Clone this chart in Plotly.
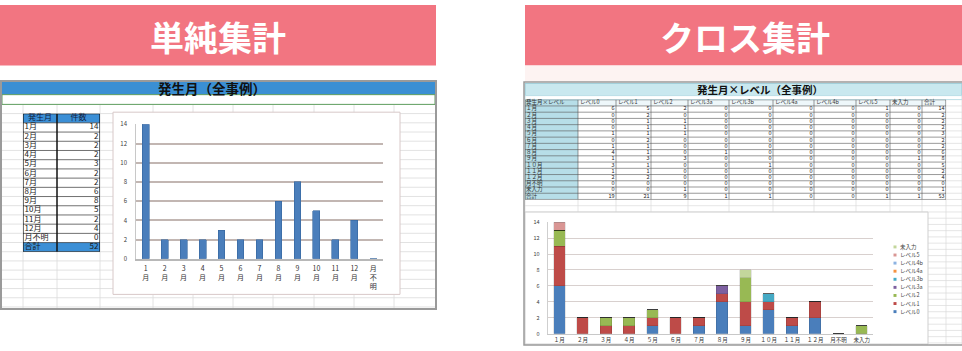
import plotly.graph_objects as go

W, H = 962, 351
FONT = "Noto Sans CJK JP"

# ---------------- data ----------------
banner_left = "単純集計"
banner_right = "クロス集計"
title_left = "発生月（全事例）"
title_right = "発生月×レベル（全事例）"

simple_header = ["発生月", "件数"]
simple_months = ["1月", "2月", "3月", "4月", "5月", "6月", "7月", "8月", "9月",
                 "10月", "11月", "12月", "月不明"]
simple_counts = [14, 2, 2, 2, 3, 2, 2, 6, 8, 5, 2, 4, 0]
simple_total_label = "合計"
simple_total = 52
simple_ticks = ["1<br>月", "2<br>月", "3<br>月", "4<br>月", "5<br>月", "6<br>月", "7<br>月",
                "8<br>月", "9<br>月", "10<br>月", "11<br>月", "12<br>月", "月<br>不<br>明"]
y_ticks = [0, 2, 4, 6, 8, 10, 12, 14]

cross_corner = "発生月×レベル"
cross_months = ["１月", "２月", "３月", "４月", "５月", "６月", "７月", "８月", "９月",
                "１０月", "１１月", "１２月", "月不明", "未入力"]
cross_levels = ["レベル0", "レベル1", "レベル2", "レベル3a", "レベル3b",
                "レベル4a", "レベル4b", "レベル5", "未入力"]
cross_total_label = "合計"
lv0 = [6, 0, 0, 0, 1, 0, 1, 4, 1, 3, 1, 2, 0, 0]
lv1 = [5, 2, 1, 1, 1, 2, 1, 1, 3, 1, 1, 2, 0, 0]
lv2 = [2, 0, 1, 1, 1, 0, 0, 0, 3, 0, 0, 0, 0, 1]
lv3a = [0, 0, 0, 0, 0, 0, 0, 1, 0, 0, 0, 0, 0, 0]
lv3b = [0, 0, 0, 0, 0, 0, 0, 0, 0, 1, 0, 0, 0, 0]
lv4a = [0, 0, 0, 0, 0, 0, 0, 0, 0, 0, 0, 0, 0, 0]
lv4b = [0, 0, 0, 0, 0, 0, 0, 0, 0, 0, 0, 0, 0, 0]
lv5 = [1, 0, 0, 0, 0, 0, 0, 0, 0, 0, 0, 0, 0, 0]
lvna = [0, 0, 0, 0, 0, 0, 0, 0, 1, 0, 0, 0, 0, 0]
cross_row_totals = [14, 2, 2, 2, 3, 2, 2, 6, 8, 5, 2, 4, 0, 1]
cross_col_totals = [19, 21, 9, 1, 1, 0, 0, 1, 1, 53]
cross_series = [lv0, lv1, lv2, lv3a, lv3b, lv4a, lv4b, lv5, lvna]

# ---------------- styles ----------------
series_colors = ["#4A7EBB", "#BE4B48", "#98B954", "#7D60A0", "#46AAC5",
                 "#F69240", "#8DB3E2", "#D99694", "#C3D69B"]
PINK = "#F27581"


def px(x):
    return x / W


def py(y):
    return 1 - y / H


fig = go.Figure()
shapes = []
annotations = []


def prect(x0, y0, x1, y1, fill=None, line=None, lw=1, layer="below"):
    shapes.append(dict(type="rect", xref="paper", yref="paper",
                       x0=px(x0), x1=px(x1), y0=py(y1), y1=py(y0),
                       fillcolor=fill or "rgba(0,0,0,0)",
                       line=dict(color=line or "rgba(0,0,0,0)", width=lw if line else 0),
                       layer=layer))


def pline(x0, y0, x1, y1, color, lw=1, layer="below"):
    shapes.append(dict(type="line", xref="paper", yref="paper",
                       x0=px(x0), x1=px(x1), y0=py(y0), y1=py(y1),
                       line=dict(color=color, width=lw), layer=layer))


def ptext(text, x, y, size, color, weight="normal", xanchor="center"):
    annotations.append(dict(text=text, x=px(x), y=py(y), xref="paper", yref="paper",
                            xanchor=xanchor, yanchor="middle", showarrow=False,
                            borderpad=0, font=dict(family=FONT, size=size, color=color,
                                                   weight=weight)))


# ---------- banners ----------
prect(0, 0, 436, 62, fill=PINK)
prect(525, 0, 962, 62, fill=PINK)
prect(525, 62, 962, 79, fill="#FDF3F2")
ptext(banner_left, 218, 32, 34, "white", "bold")
ptext(banner_right, 745, 32, 34, "white", "bold")

# ---------- left sheet ----------
prect(1, 78, 436, 312, fill="white")
r = 102.0
while r < 312:
    pline(2, r, 435, r, "#DADADA", 0.8)
    r += 9.45
for vx in [23, 57, 100, 153, 193, 233, 273, 314, 354, 394]:
    pline(vx, 102, vx, 311, "#DADADA", 0.8)
prect(2, 79, 435, 92, fill="#3B8FD3")
prect(2, 92, 435, 102, fill="white", line="#5E9E5E", lw=1)
prect(113, 110, 400, 297, fill="white", line="#D8C8C8", lw=1)
prect(1, 78, 436, 312, line="#9A9A9A", lw=2)
ptext(title_left, 212, 85.5, 13.5, "#111", "bold")

# ---------- right sheet ----------
prect(524, 79, 962, 349, fill="white")
r = 97.2 - 6.4
while r < 349:
    if r > 93:
        pline(525, r, 962, r, "#DADADA", 0.7)
    r += 6.4
col_w = [53, 38, 35, 37, 41, 44, 41, 42, 34, 32, 24]
edges = [525]
for w in col_w:
    edges.append(edges[-1] + w)
for vx in edges + [962]:
    pline(vx, 93, vx, 349, "#DADADA", 0.7)
prect(525, 80.5, 962, 93, fill="#C9E8EF", line="#8CC3D0", lw=0.8)
prect(525, 93, 962, 97, fill="white", line="#B5DCE5", lw=0.8)
prect(525, 212.5, 928, 348, fill="white", line="#CFCFCF", lw=1)
prect(524, 79, 963, 349, line="#9A9A9A", lw=1.5)
ptext(title_right, 760, 87, 10.5, "#111", "bold")

# ---------- left table (axis x3/y3, units = px) ----------
lt_w = [34, 43]
lt_rows = 1 + len(simple_months) + 1


def ax_rect(xr, yr, x0, y0, x1, y1, fill=None, line=None, lw=1):
    shapes.append(dict(type="rect", xref=xr, yref=yr, x0=x0, x1=x1, y0=y0, y1=y1,
                       fillcolor=fill or "rgba(0,0,0,0)",
                       line=dict(color=line or "rgba(0,0,0,0)", width=lw if line else 0),
                       layer="below"))


def ax_line(xr, yr, x0, y0, x1, y1, color, lw):
    shapes.append(dict(type="line", xref=xr, yref=yr, x0=x0, x1=x1, y0=y0, y1=y1,
                       line=dict(color=color, width=lw), layer="below"))


LTW = sum(lt_w)
ax_rect("x3", "y3", 0, 0, LTW, lt_rows, fill="white")
ax_rect("x3", "y3", 0, 0, LTW, 1, fill="#3B8FD6")
ax_rect("x3", "y3", 0, lt_rows - 1, LTW, lt_rows, fill="#3B8FD6")
for i in range(1, lt_rows):
    ax_line("x3", "y3", 0, i, LTW, i, "#333", 0.7)
ax_line("x3", "y3", lt_w[0], 0, lt_w[0], lt_rows, "#111", 1.5)
ax_rect("x3", "y3", 0, 0, LTW, lt_rows, line="#111", lw=1.2)

lt_lab_x, lt_lab_y, lt_lab_t = [], [], []
lt_val_x, lt_val_y, lt_val_t = [], [], []
for i, m in enumerate(simple_months):
    lt_lab_x.append(1.5); lt_lab_y.append(i + 1.5); lt_lab_t.append(m)
    lt_val_x.append(LTW - 1.5); lt_val_y.append(i + 1.5); lt_val_t.append(str(simple_counts[i]))
lt_lab_x.append(1.5); lt_lab_y.append(lt_rows - 0.5); lt_lab_t.append(simple_total_label)
lt_val_x.append(LTW - 1.5); lt_val_y.append(lt_rows - 0.5); lt_val_t.append(str(simple_total))

fig.add_trace(go.Scatter(x=lt_lab_x, y=lt_lab_y, text=lt_lab_t, mode="text",
                         textposition="middle right", xaxis="x3", yaxis="y3",
                         textfont=dict(family=FONT, size=8, color="#1A1A1A"),
                         cliponaxis=False, hoverinfo="skip", showlegend=False))
fig.add_trace(go.Scatter(x=lt_val_x, y=lt_val_y, text=lt_val_t, mode="text",
                         textposition="middle left", xaxis="x3", yaxis="y3",
                         textfont=dict(family=FONT, size=8, color="#1A1A1A"),
                         cliponaxis=False, hoverinfo="skip", showlegend=False))
fig.add_trace(go.Scatter(x=[lt_w[0] / 2, lt_w[0] + lt_w[1] / 2], y=[0.5, 0.5], text=simple_header,
                         mode="text", textposition="middle center", xaxis="x3", yaxis="y3",
                         textfont=dict(family=FONT, size=8, color="#102040"),
                         cliponaxis=False, hoverinfo="skip", showlegend=False))

# ---------- right table (axis x4/y4, units = px) ----------
rt_rows = 1 + len(cross_months) + 1
RTW = sum(col_w)
cx = [0]
for w in col_w:
    cx.append(cx[-1] + w)
ax_rect("x4", "y4", 0, 0, RTW, rt_rows, fill="white")
ax_rect("x4", "y4", cx[1], 0, RTW, 1, fill="#EEF7FA")
ax_rect("x4", "y4", 0, 0, cx[1], rt_rows, fill="#B7DEE8")
for i in range(1, rt_rows):
    ax_line("x4", "y4", 0, i, RTW, i, "#555", 0.6)
for e in cx[1:-1]:
    ax_line("x4", "y4", e, 0, e, rt_rows, "#555", 0.6)
ax_rect("x4", "y4", 0, 0, RTW, rt_rows, line="#444", lw=0.8)

rl_x, rl_y, rl_t = [], [], []
rv_x, rv_y, rv_t = [], [], []
rl_x.append(1); rl_y.append(0.5); rl_t.append(cross_corner)
for j, lv in enumerate(cross_levels + [cross_total_label]):
    rl_x.append(cx[j + 1] + 2); rl_y.append(0.5); rl_t.append(lv)
for i, m in enumerate(cross_months):
    rl_x.append(1); rl_y.append(i + 1.5); rl_t.append(m)
    vals = [s[i] for s in cross_series] + [cross_row_totals[i]]
    for j, v in enumerate(vals):
        rv_x.append(cx[j + 2] - 1.5); rv_y.append(i + 1.5); rv_t.append(str(v))
rl_x.append(1); rl_y.append(rt_rows - 0.5); rl_t.append(cross_total_label)
for j, v in enumerate(cross_col_totals):
    rv_x.append(cx[j + 2] - 1.5); rv_y.append(rt_rows - 0.5); rv_t.append(str(v))

fig.add_trace(go.Scatter(x=rl_x, y=rl_y, text=rl_t, mode="text", textposition="middle right",
                         xaxis="x4", yaxis="y4", textfont=dict(family=FONT, size=5.5, color="#333"),
                         cliponaxis=False, hoverinfo="skip", showlegend=False))
fig.add_trace(go.Scatter(x=rv_x, y=rv_y, text=rv_t, mode="text", textposition="middle left",
                         xaxis="x4", yaxis="y4", textfont=dict(family=FONT, size=5.5, color="#222"),
                         cliponaxis=False, hoverinfo="skip", showlegend=False))

# ---------- left chart ----------
fig.add_trace(go.Bar(x=simple_months, y=simple_counts, width=0.36, xaxis="x", yaxis="y",
                     marker=dict(color="#4A7EBB", line=dict(color="#36659C", width=0.6)),
                     showlegend=False))

# ---------- right chart ----------
for name, vals, col in zip(cross_levels, cross_series, series_colors):
    fig.add_trace(go.Bar(x=cross_months, y=vals, name=name, width=0.5, xaxis="x2", yaxis="y2",
                         marker=dict(color=col, line=dict(color="rgba(0,0,0,0.25)", width=0.4)),
                         showlegend=False))

# manual legend (top: last series)
leg_y0 = 248.3
for k, (name, col) in enumerate(zip(cross_levels[::-1], series_colors[::-1])):
    yy = leg_y0 + k * 8.3
    prect(893.5, yy - 1.5, 896.5, yy + 1.5, fill=col, layer="above")
    ptext(name, 898.5, yy, 5.5, "#444", xanchor="left")

tickfont_small = dict(family=FONT, size=6, color="#404040")
fig.update_layout(
    width=W, height=H, margin=dict(l=0, r=0, t=0, b=0),
    paper_bgcolor="white", plot_bgcolor="rgba(0,0,0,0)",
    barmode="stack", showlegend=False,
    shapes=shapes, annotations=annotations,
    xaxis=dict(domain=[px(136.2), px(382.8)], anchor="y", type="category",
               range=[-0.5, len(simple_months) - 0.5],
               tickmode="array", tickvals=simple_months, ticktext=simple_ticks,
               tickfont=dict(family=FONT, size=7, color="#333"), showgrid=False,
               showline=True, linecolor="#B8B8B8", linewidth=1.5, ticks="", ticklabelstandoff=2),
    yaxis=dict(domain=[py(260.5), py(122.5)], anchor="x", range=[0, 14], tickvals=y_ticks,
               gridcolor="#C2B6B2", gridwidth=1.8, zeroline=False, showline=True,
               linecolor="#C8C8C8", linewidth=1, ticks="", ticklabelstandoff=7,
               tickfont=tickfont_small),
    xaxis2=dict(domain=[px(547.7), px(873.3)], anchor="y2", type="category",
                range=[-0.5, len(cross_months) - 0.5], showgrid=False,
                tickfont=dict(family=FONT, size=5.5, color="#333"),
                showline=True, linecolor="#C8C8C8", linewidth=1, ticks="", ticklabelstandoff=1),
    yaxis2=dict(domain=[py(337.3), py(222.9)], anchor="x2", range=[0, 14], tickvals=y_ticks,
                gridcolor="#D8D0CE", gridwidth=1.4, zeroline=False, showline=True,
                linecolor="#CFCFCF", linewidth=1, ticks="", ticklabelstandoff=6,
                tickfont=dict(family=FONT, size=5.5, color="#404040")),
    xaxis3=dict(domain=[px(23), px(100)], anchor="y3", range=[0, LTW], visible=False),
    yaxis3=dict(domain=[py(253.3), py(111.5)], anchor="x3", range=[lt_rows, 0], visible=False),
    xaxis4=dict(domain=[px(525), px(946)], anchor="y4", range=[0, RTW], visible=False),
    yaxis4=dict(domain=[py(199.6), py(97.2)], anchor="x4", range=[rt_rows, 0], visible=False),
)

fig.write_html("out.html")
